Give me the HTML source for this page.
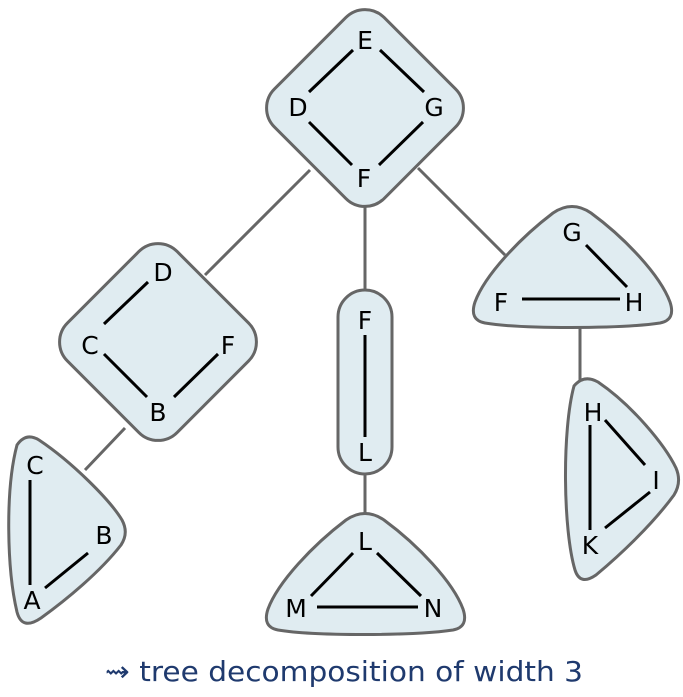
<!DOCTYPE html>
<html><head><style>
html,body{margin:0;padding:0;background:#fff;}
svg text{font-family:"DejaVu Sans","Liberation Sans",sans-serif;}
</style></head><body>
<svg width="683" height="692" viewBox="0 0 683 692" xmlns="http://www.w3.org/2000/svg">
<g stroke="#666" stroke-width="3" fill="none">
<line x1="310" y1="170" x2="205" y2="275"/>
<line x1="365" y1="200" x2="365" y2="292"/>
<line x1="418" y1="168" x2="505" y2="255"/>
<line x1="580" y1="322" x2="580" y2="380"/>
<line x1="365" y1="472" x2="365" y2="517"/>
<line x1="125" y1="428" x2="85" y2="470"/>
</g>
<g fill="#e0ecf1" stroke="#666" stroke-width="3">
<rect x="287.5" y="30.5" width="155" height="155" rx="27" transform="rotate(45 365 108)"/>
<rect x="80.5" y="264.5" width="155" height="155" rx="27" transform="rotate(45 158 342)"/>
<rect x="338" y="290" width="54" height="184" rx="27"/>
<path d="M553,213 Q572,200 591,213 C625,238 660,275 670,302 Q676,320 660,323 C620,329 520,329 485,323 Q469,320 475,302 C485,275 520,238 553,213 Z"/>
<path d="M553,213 Q572,200 591,213 C625,238 660,275 670,302 Q676,320 660,323 C620,329 520,329 485,323 Q469,320 475,302 C485,275 520,238 553,213 Z" transform="translate(-207,307)"/>
<path d="M574,386 Q584,374 598,382 C632,405 665,445 676,468 Q682,482 674,495 C652,525 620,555 596,575 Q580,586 575,570 C563,530 562,430 574,386 Z"/>
<path d="M17,445 Q26,432 39,440 C72,462 110,500 122,520 Q129,533 121,545 C100,572 66,600 41,618 Q22,631 17,612 C7,570 5,490 17,445 Z"/>
</g>
<g stroke="#000" stroke-width="3">
<line x1="353" y1="50" x2="309" y2="92"/><line x1="380" y1="50" x2="424" y2="92"/>
<line x1="309" y1="122" x2="352" y2="165"/><line x1="423" y1="122" x2="379" y2="165"/>
<g transform="translate(-205,232)">
<line x1="353" y1="50" x2="309" y2="92"/>
<line x1="309" y1="122" x2="352" y2="165"/><line x1="423" y1="122" x2="379" y2="165"/>
</g>
<line x1="365" y1="335" x2="365" y2="437"/>
<line x1="522" y1="299" x2="620" y2="299"/><line x1="586" y1="245" x2="627" y2="287"/>
<line x1="317" y1="607" x2="418" y2="607"/><line x1="353" y1="553" x2="311" y2="596"/><line x1="377" y1="553" x2="421" y2="596"/>
<line x1="590" y1="425" x2="590" y2="530"/><line x1="605" y1="420" x2="645" y2="465"/><line x1="650" y1="492" x2="605" y2="528"/>
<line x1="30" y1="480" x2="30" y2="585"/><line x1="45" y1="588" x2="88" y2="553"/>
</g>
<g font-size="25" fill="#000" text-anchor="middle">
<text x="365" y="49">E</text><text x="298" y="116">D</text><text x="434" y="116">G</text><text x="364" y="187">F</text>
<text x="163" y="281">D</text><text x="90" y="354">C</text><text x="228" y="354">F</text><text x="158" y="421">B</text>
<text x="365" y="329">F</text><text x="365" y="461">L</text>
<text x="572" y="241">G</text><text x="501" y="311">F</text><text x="634" y="311">H</text>
<text x="365" y="550">L</text><text x="296" y="617">M</text><text x="433" y="617">N</text>
<text x="593" y="421">H</text><text x="656" y="489">I</text><text x="590" y="554">K</text>
<text x="35" y="474">C</text><text x="104" y="544">B</text><text x="32" y="609">A</text>
</g>
<text x="105" y="681" font-size="28" fill="#1f3a6e" textLength="478" lengthAdjust="spacingAndGlyphs" font-family="Liberation Sans, DejaVu Sans, sans-serif">⇝ tree decomposition of width 3</text>
</svg>
</body></html>
